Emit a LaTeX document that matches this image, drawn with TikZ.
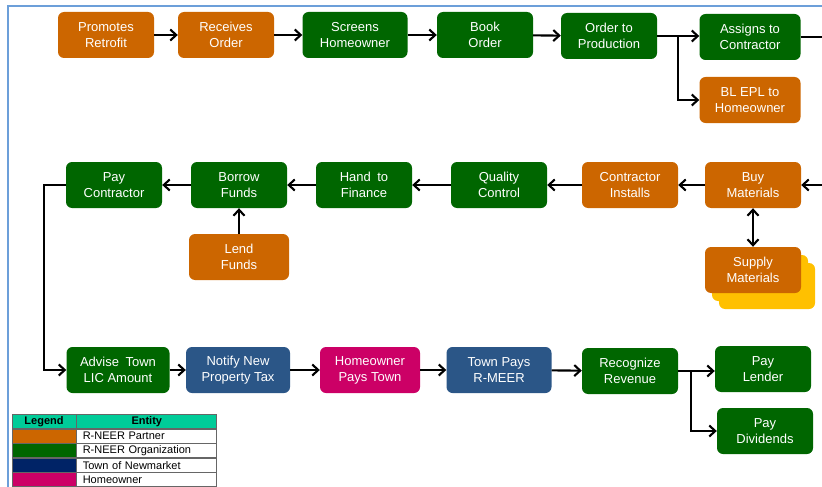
\documentclass[tikz,border=0pt]{standalone}
\usepackage{fontspec}
\setmainfont{Liberation Sans}
\usepackage{tikz}
\usepackage{xcolor}
\usetikzlibrary{arrows.meta,calc,positioning,shadows}

\definecolor{partnerc}{HTML}{CC6600}
\definecolor{orgc}{HTML}{006600}
\definecolor{townc}{HTML}{2B5687}
\definecolor{ownerc}{HTML}{CC0066}
\definecolor{navyc}{HTML}{002366}
\definecolor{tealc}{HTML}{00CC99}
\definecolor{framec}{HTML}{6C9FD9}
\definecolor{supplyc}{HTML}{FFC000}

\tikzset{
  stage/.style={rounded corners=6pt, minimum width=96pt, minimum height=46pt,
                align=center, text=white, inner sep=2pt,
                font=\fontsize{13}{16}\selectfont},
  partner/.style={stage, fill=partnerc},
  org/.style={stage, fill=orgc},
  town/.style={stage, fill=townc},
  owner/.style={stage, fill=ownerc},
  flow/.style={line width=2.1pt, -{Straight Barb[length=6pt,width=11pt]}},
  twoway/.style={line width=2.1pt, {Straight Barb[length=6pt,width=11pt]}-{Straight Barb[length=6pt,width=11pt]}},
  cell/.style={draw=black!60, line width=0.8pt, minimum height=13.75pt, inner sep=0pt,
               font=\fontsize{11}{12}\selectfont},
}

\begin{document}
\begin{tikzpicture}[x=1pt, y=-1pt]
  \useasboundingbox (0,0) rectangle (822,487);
  % page frame
  \draw[framec, line width=1.5pt] (8,487) -- (8,6) -- (822,6);

  % first row: order intake
  \node[partner] (promote) at (106,35) {Promotes\\Retrofit};
  \node[partner] (receive) at (226,35) {Receives\\Order};
  \node[org, minimum width=105pt] (screen) at (355,35) {Screens\\Homeowner};
  \node[org] (book) at (485,35) {Book\\Order};
  \node[org] (produce) at (609,36) {Order to\\Production};
  \node[org, minimum width=101pt] (assign) at (750,37) {Assigns to\\Contractor};
  \node[partner, minimum width=101pt] (blepl) at (750,100) {BL EPL to\\Homeowner};

  \draw[flow] (promote) -- (receive);
  \draw[flow] (receive) -- (screen);
  \draw[flow] (screen) -- (book);
  \draw[flow] (book) -- (produce);
  \coordinate (split1) at (678,36);
  \draw[flow] (produce.east) -- (split1) |- (blepl.west);
  \draw[flow] (split1) -- (split1 -| assign.west);
  \coordinate (offtop) at (822,37);
  \draw[line width=2.1pt] (assign) -- (offtop);

  % second row: install and finance (runs right to left)
  \node[partner] (buy) at (753,185) {Buy\\Materials};
  \node[partner, double copy shadow={shadow xshift=7pt, shadow yshift=-8pt,
        fill=supplyc, draw=none, opacity=1}] (supply) at (753,270) {Supply\\Materials};
  \node[partner] (installs) at (630,185) {Contractor\\Installs};
  \node[org] (quality) at (499,185) {Quality\\Control};
  \node[org] (finance) at (364,185) {Hand\enspace to\\Finance};
  \node[org] (borrow) at (239,185) {Borrow\\Funds};
  \node[partner, minimum width=100pt] (lend) at (239,257) {Lend\\Funds};
  \node[org] (paycon) at (114,185) {Pay\\Contractor};

  \coordinate (offmid) at (822,185);
  \draw[flow] (offmid) -- (buy);
  \draw[twoway] (buy) -- (supply);
  \draw[flow] (buy) -- (installs);
  \draw[flow] (installs) -- (quality);
  \draw[flow] (quality) -- (finance);
  \draw[flow] (finance) -- (borrow);
  \draw[flow] (lend) -- (borrow);
  \draw[flow] (borrow) -- (paycon);

  % third row: taxes and revenue
  \node[org, minimum width=103pt] (advise) at (118,370) {Advise\enspace Town\\LIC Amount};
  \node[town, minimum width=104pt] (notify) at (238,370) {Notify New\\Property Tax};
  \node[owner, minimum width=100pt] (ownerpays) at (370,370) {Homeowner\\Pays Town};
  \node[town, minimum width=105pt] (townpays) at (499,370) {Town Pays\\R-MEER};
  \node[org] (revenue) at (630,371) {Recognize\\Revenue};
  \node[org] (lender) at (763,369) {Pay\\Lender};
  \node[org] (dividends) at (765,431) {Pay\\Dividends};

  \coordinate (bend) at (44,185);
  \draw[flow] (paycon.west) -- (bend) |- (advise.west);
  \draw[flow] (advise) -- (notify);
  \draw[flow] (notify) -- (ownerpays);
  \draw[flow] (ownerpays) -- (townpays);
  \draw[flow] (townpays) -- (revenue);
  \coordinate (split2) at (691,371);
  \draw[flow] (revenue.east) -- (split2) |- (dividends.west);
  \draw[flow] (split2) -- (split2 -| lender.west);

  % legend
  \node[cell, fill=tealc, minimum width=64pt, font=\fontsize{11}{12}\selectfont\bfseries] (leghead) at (44,421.5) {Legend};
  \node[cell, fill=tealc, minimum width=140pt, font=\fontsize{11}{12}\selectfont\bfseries, right=0pt of leghead] (enthead) {Entity};
  \node[cell, fill=partnerc, minimum width=64pt, below=0pt of leghead] (keyA) {};
  \node[cell, fill=orgc, minimum width=64pt, below=0pt of keyA] (keyB) {};
  \node[cell, fill=navyc, minimum width=64pt, below=0pt of keyB] (keyC) {};
  \node[cell, fill=ownerc, minimum width=64pt, below=0pt of keyC] (keyD) {};
  \node[cell, minimum width=140pt, text width=128pt, right=0pt of keyA] (entA) {R-NEER Partner};
  \node[cell, minimum width=140pt, text width=128pt, right=0pt of keyB] (entB) {R-NEER Organization};
  \node[cell, minimum width=140pt, text width=128pt, right=0pt of keyC] (entC) {Town of Newmarket};
  \node[cell, minimum width=140pt, text width=128pt, right=0pt of keyD] (entD) {Homeowner};
\end{tikzpicture}
\end{document}
